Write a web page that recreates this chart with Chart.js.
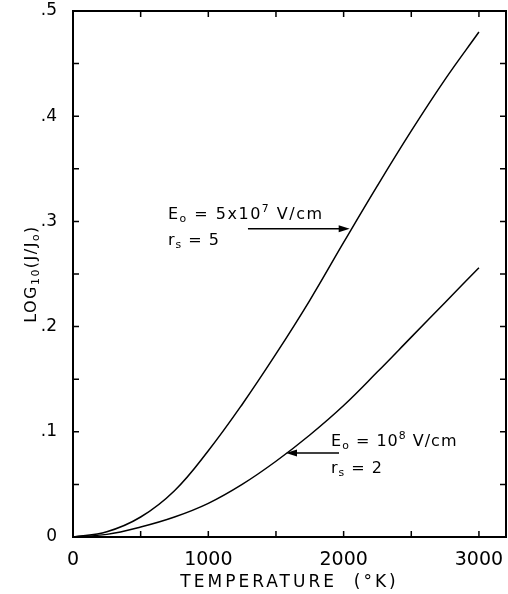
<!DOCTYPE html>
<html>
<head>
<meta charset="utf-8">
<script src="https://cdn.jsdelivr.net/npm/chart.js@4.4.0/dist/chart.umd.min.js"></script>
<style>
  html, body { margin: 0; padding: 0; background: #fff; }
  #wrap { width: 508px; height: 594px; }
</style>
</head>
<body>
<div id="wrap"><canvas id="tempChart"></canvas></div>
<script>
// Temperatura (K) y log10(J/Jo)
const temperatures = [0, 250, 500, 750, 1000, 1250, 1500, 1750, 2000, 2250, 2500, 2750, 3000];
const curveE5e7 = [0, 0.005, 0.019, 0.044, 0.082, 0.126, 0.174, 0.225, 0.280, 0.334, 0.386, 0.435, 0.480];
const curveE1e8 = [0, 0.0025, 0.0095, 0.019, 0.032, 0.050, 0.072, 0.097, 0.125, 0.157, 0.190, 0.223, 0.256];
const xTickValues = [0, 1000, 2000, 3000];
const xTickLabels = ['0', '1000', '2000', '3000'];
const yTickLabels = ['0', '.1', '.2', '.3', '.4', '.5'];

const FONT = "'DejaVu Sans', sans-serif";

const toPoints = (values) => temperatures.map((t, i) => ({ x: t, y: values[i] }));

// Dibuja texto con sub/superindices: segmentos [texto, modo]
const drawRich = (ctx, x, y, parts, size, spacing) => {
    let cx = x;
    ctx.letterSpacing = spacing + 'px';
    parts.forEach(([txt, mode]) => {
        const s = mode ? size * 0.68 : size;
        const dy = mode === 'sup' ? -size * 0.45 : mode === 'sub' ? size * 0.2 : 0;
        ctx.font = `${s}px ${FONT}`;
        ctx.fillText(txt, cx, y + dy);
        cx += ctx.measureText(txt).width;
    });
    return cx - x;
};

const measureRich = (ctx, parts, size, spacing) => {
    ctx.letterSpacing = spacing + 'px';
    return parts.reduce((w, [txt, mode]) => {
        ctx.font = `${mode ? size * 0.68 : size}px ${FONT}`;
        return w + ctx.measureText(txt).width;
    }, 0);
};

const drawArrow = (ctx, x1, y1, x2, y2) => {
    const dir = Math.sign(x2 - x1);
    ctx.beginPath();
    ctx.moveTo(x1, y1);
    ctx.lineTo(x2 - dir * 8, y2);
    ctx.lineWidth = 1.5;
    ctx.stroke();
    ctx.beginPath();
    ctx.moveTo(x2, y2);
    ctx.lineTo(x2 - dir * 11, y2 - 3.5);
    ctx.lineTo(x2 - dir * 11, y2 + 3.5);
    ctx.closePath();
    ctx.fill();
};

// Marco, marcas interiores en los cuatro lados, titulos y anotaciones
const framePlugin = {
    id: 'frame',
    afterDraw(chart) {
        const { ctx, chartArea: a, scales: { x, y } } = chart;
        ctx.save();
        ctx.strokeStyle = '#000';
        ctx.fillStyle = '#000';
        ctx.lineWidth = 2;
        ctx.strokeRect(a.left, a.top, a.right - a.left, a.bottom - a.top);

        ctx.lineWidth = 1.5;
        ctx.beginPath();
        for (let t = 500; t < x.max; t += 500) {
            const px = x.getPixelForValue(t);
            ctx.moveTo(px, a.bottom); ctx.lineTo(px, a.bottom - 6);
            ctx.moveTo(px, a.top); ctx.lineTo(px, a.top + 6);
        }
        for (let v = 0.05; v < y.max - 0.001; v += 0.05) {
            const py = y.getPixelForValue(v);
            ctx.moveTo(a.left, py); ctx.lineTo(a.left + 6, py);
            ctx.moveTo(a.right, py); ctx.lineTo(a.right - 6, py);
        }
        ctx.stroke();

        ctx.textBaseline = 'alphabetic';
        ctx.textAlign = 'left';

        // Titulo eje X
        const xTitle = [['TEMPERATURE  (°K)']];
        const xw = measureRich(ctx, xTitle, 17, 3);
        drawRich(ctx, (a.left + a.right) / 2 - xw / 2, 587, xTitle, 17, 3);

        // Titulo eje Y (rotado)
        const yTitle = [['LOG'], ['10', 'sub'], ['(J/J'], ['o', 'sub'], [')']];
        const yw = measureRich(ctx, yTitle, 16, 1.5);
        ctx.save();
        ctx.translate(36, (a.top + a.bottom) / 2 + yw / 2);
        ctx.rotate(-Math.PI / 2);
        drawRich(ctx, 0, 0, yTitle, 16, 1.5);
        ctx.restore();

        // Anotaciones
        drawRich(ctx, x.getPixelForValue(702), y.getPixelForValue(0.302),
            [['E'], ['o', 'sub'], [' = 5x10'], ['7', 'sup'], [' V/cm']], 16, 1.5);
        drawRich(ctx, x.getPixelForValue(702), y.getPixelForValue(0.2776),
            [['r'], ['s', 'sub'], [' = 5']], 16, 1);
        drawArrow(ctx, x.getPixelForValue(1293), y.getPixelForValue(0.293),
            x.getPixelForValue(2045), y.getPixelForValue(0.293));

        drawRich(ctx, x.getPixelForValue(1907), y.getPixelForValue(0.0865),
            [['E'], ['o', 'sub'], [' = 10'], ['8', 'sup'], [' V/cm']], 16, 1);
        drawRich(ctx, x.getPixelForValue(1907), y.getPixelForValue(0.0608),
            [['r'], ['s', 'sub'], [' = 2']], 16, 1);
        drawArrow(ctx, x.getPixelForValue(1966), y.getPixelForValue(0.0798),
            x.getPixelForValue(1574), y.getPixelForValue(0.0798));
        ctx.restore();
    }
};

const lineStyle = {
    borderColor: '#000',
    borderWidth: 1.5,
    pointRadius: 0,
    tension: 0.4,
    fill: false
};

new Chart(document.getElementById('tempChart'), {
    type: 'line',
    data: {
        datasets: [
            { label: 'Eo=5x10^7 V/cm, rs=5', data: toPoints(curveE5e7), ...lineStyle },
            { label: 'Eo=10^8 V/cm, rs=2', data: toPoints(curveE1e8), ...lineStyle }
        ]
    },
    options: {
        responsive: true,
        maintainAspectRatio: false,
        animation: false,
        layout: { padding: { top: 11, right: 2, left: 0, bottom: 0 } },
        plugins: {
            legend: { display: false },
            tooltip: { enabled: false }
        },
        scales: {
            x: {
                type: 'linear',
                min: 0,
                max: 3200,
                grid: { display: false, drawTicks: false },
                border: { display: false },
                afterBuildTicks: (scale) => { scale.ticks = xTickValues.map(v => ({ value: v })); },
                afterFit: (scale) => {
                    scale.height = 57;
                    scale.paddingLeft = 0;
                    scale.paddingRight = 0;
                },
                ticks: {
                    autoSkip: false,
                    maxRotation: 0,
                    padding: 12,
                    color: '#000',
                    font: { family: FONT, size: 19 },
                    callback: (v) => xTickLabels[xTickValues.indexOf(v)]
                }
            },
            y: {
                type: 'linear',
                min: 0,
                max: 0.5,
                grid: { display: false, drawTicks: false },
                border: { display: false },
                afterFit: (scale) => {
                    scale.width = 73;
                    scale.paddingTop = 0;
                    scale.paddingBottom = 0;
                },
                ticks: {
                    stepSize: 0.1,
                    padding: 16,
                    color: '#000',
                    font: { family: FONT, size: 17 },
                    callback: (v) => yTickLabels[Math.round(v * 10)]
                }
            }
        }
    },
    plugins: [framePlugin]
});
</script>
</body>
</html>
